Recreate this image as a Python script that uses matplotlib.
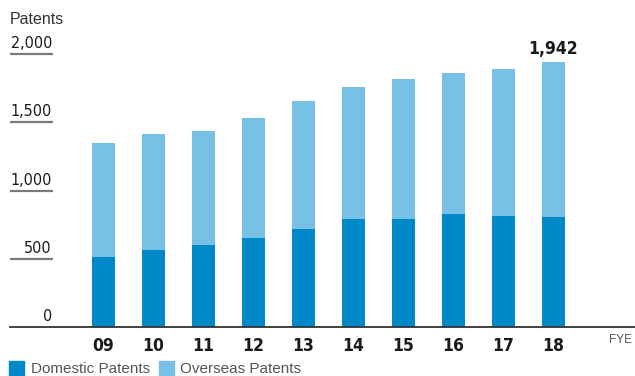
import matplotlib
matplotlib.use("Agg")
import matplotlib.pyplot as plt
import matplotlib.transforms as mtransforms
from matplotlib.patches import Patch

# data
years = ["09", "10", "11", "12", "13", "14", "15", "16", "17", "18"]
domestic = [513, 564, 600, 652, 718, 791, 791, 828, 813, 806]
totals = [1348, 1414, 1436, 1531, 1656, 1758, 1817, 1861, 1890, 1942]
overseas = [t - d for t, d in zip(totals, domestic)]
yticks = [0, 500, 1000, 1500, 2000]

dark_blue = "#0089C9"
light_blue = "#78C0E6"
cond = dict(family="DejaVu Sans", stretch="condensed")
plt.rcParams["font.family"] = ["Liberation Sans", "DejaVu Sans"]

fig = plt.figure(figsize=(6.35, 3.76), dpi=100)
ax = fig.add_axes([10 / 635, 1 - 327 / 376, 625 / 635, 287 / 376])

x = list(range(len(years)))
ax.bar(x, domestic, width=0.46, color=dark_blue, zorder=2)
ax.bar(x, overseas, width=0.46, bottom=domestic, color=light_blue, zorder=2)

ax.set_xlim(-1.87, 10.63)
ax.set_ylim(0, 2103)

# y "ticks" as short grey underlines with labels sitting on top
tr = mtransforms.blended_transform_factory(ax.transAxes, ax.transData)
ax.hlines(yticks[1:], 0, 43 / 625, transform=tr, color="#7a7a7a", lw=1.6, clip_on=False)
for v in yticks:
    ax.text(42 / 625, v + 22, f"{v:,}", transform=tr, ha="right", va="bottom",
            fontsize=11.5, color="#1a1a1a", **cond)

ax.set_yticks([])
ax.set_xticks(x)
ax.set_xticklabels(years, fontsize=12.5, fontweight="semibold", color="#1a1a1a", **cond)
ax.tick_params(axis="x", length=0, pad=7)

for s in ["top", "right", "left"]:
    ax.spines[s].set_visible(False)
ax.spines["bottom"].set_color("#333333")
ax.spines["bottom"].set_linewidth(1.3)

# total on the last bar
ax.annotate(f"{totals[-1]:,}", (x[-1], totals[-1]), xytext=(0, 3), textcoords="offset points",
            ha="center", va="bottom", fontsize=12.5, fontweight="semibold", color="#1a1a1a", **cond)

fig.text(10 / 635, 1 - 19 / 376, "Patents", fontsize=11.5, color="#333333", va="center", ha="left")
fig.text(620 / 635, 1 - 340 / 376, "FYE", fontsize=8.5, color="#555555", va="center", ha="center")

handles = [Patch(color=dark_blue, label="Domestic Patents"),
           Patch(color=light_blue, label="Overseas Patents")]
fig.legend(handles=handles, loc="lower left", bbox_to_anchor=(0.0, -0.025), ncol=2, frameon=False,
           fontsize=11, handlelength=1.0, handleheight=1.1, handletextpad=0.4, columnspacing=0.6,
           borderaxespad=0.2, labelcolor="#555555")

fig.savefig("out.png", dpi=100)
